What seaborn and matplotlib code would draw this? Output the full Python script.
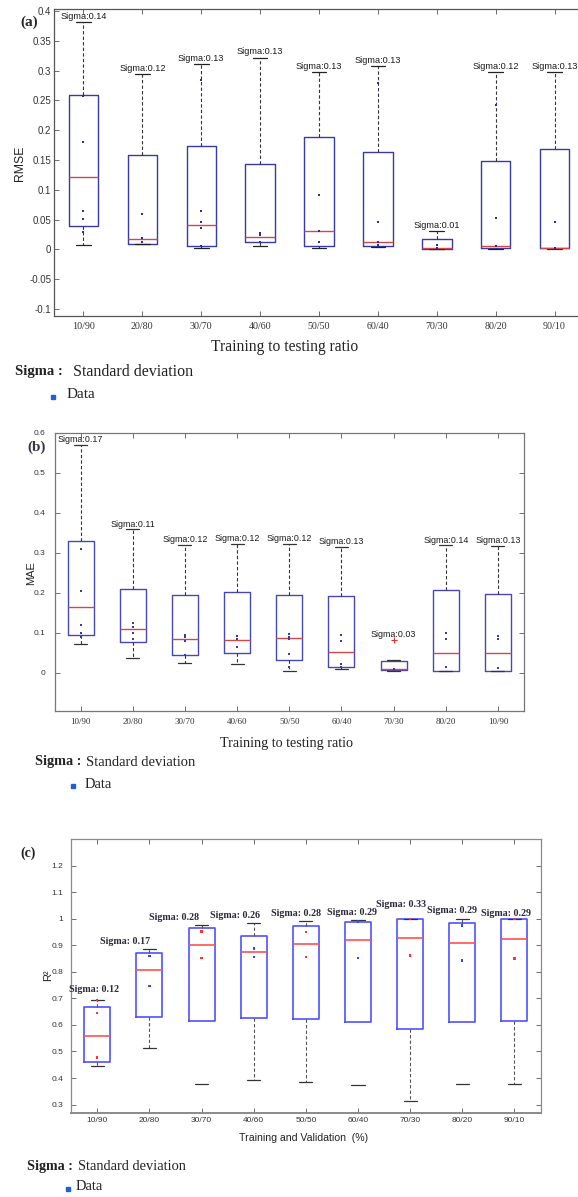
import numpy as np
import pandas as pd
import matplotlib
matplotlib.use("Agg")
import matplotlib.pyplot as plt
from matplotlib.lines import Line2D
from matplotlib.ticker import MultipleLocator
import seaborn as sns

W, H = 578, 1197

# ---- (a) RMSE ----
ratios_a = ["10/90", "20/80", "30/70", "40/60", "50/50", "60/40", "70/30", "80/20", "90/10"]
rmse_lo = [0.0068, 0.0085, 0.0018, 0.0051, 0.0018, 0.0040, 0.0005, 0.0010, 0.0010]
rmse_q1 = [0.0398, 0.0096, 0.0051, 0.0119, 0.0063, 0.0063, 0.0010, 0.0018, 0.0018]
rmse_med = [0.1215, 0.0169, 0.0404, 0.0203, 0.0309, 0.0119, 0.0015, 0.0063, 0.0030]
rmse_q3 = [0.259, 0.158, 0.174, 0.143, 0.188, 0.163, 0.018, 0.149, 0.169]
rmse_hi = [0.382, 0.294, 0.311, 0.322, 0.298, 0.308, 0.030, 0.298, 0.298]
rmse_sigma = [0.14, 0.12, 0.13, 0.13, 0.13, 0.13, 0.01, 0.12, 0.13]
rmse_dots = [[0.257, 0.18, 0.064, 0.051, 0.029], [0.059, 0.019, 0.012],
             [0.284, 0.064, 0.046, 0.035, 0.006], [0.028, 0.024, 0.012],
             [0.091, 0.031, 0.012], [0.28, 0.046, 0.013, 0.008], [0.007, 0.002],
             [0.243, 0.053, 0.006], [0.046, 0.003]]

# ---- (b) MAE ----
ratios_b = ["10/90", "20/80", "30/70", "40/60", "50/50", "60/40", "70/30", "80/20", "10/90"]
mae_lo = [0.0725, 0.036, 0.025, 0.021, 0.005, 0.0083, 0.004, 0.004, 0.004]
mae_q1 = [0.093, 0.076, 0.0433, 0.048, 0.0317, 0.0133, 0.0058, 0.005, 0.005]
mae_med = [0.163, 0.108, 0.0833, 0.0817, 0.0875, 0.051, 0.009, 0.0483, 0.0483]
mae_q3 = [0.33, 0.21, 0.195, 0.201, 0.195, 0.191, 0.029, 0.206, 0.1975]
mae_hi = [0.569, 0.358, 0.32, 0.322, 0.322, 0.315, 0.031, 0.318, 0.317]
mae_sigma = [0.17, 0.11, 0.12, 0.12, 0.12, 0.13, 0.03, 0.14, 0.13]
mae_dots = [[0.31, 0.205, 0.12, 0.098, 0.09], [0.125, 0.115, 0.098, 0.085],
            [0.095, 0.088, 0.078, 0.045], [0.092, 0.085, 0.063],
            [0.097, 0.09, 0.085, 0.047, 0.015], [0.093, 0.08, 0.022, 0.015], [0.008],
            [0.098, 0.083, 0.015], [0.092, 0.083, 0.012]]
mae_flier_group = [6]
mae_flier_val = [0.082]

# ---- (c) R2 ----
ratios_c = ["10/90", "20/80", "30/70", "40/60", "50/50", "60/40", "70/30", "80/20", "90/10"]
r2_lo = [0.4444, 0.512, 0.379, 0.3917, 0.3866, 0.374, 0.3138, 0.378, 0.378]
r2_q1 = [0.4595, 0.629, 0.6163, 0.625, 0.6226, 0.6126, 0.5862, 0.610, 0.6138]
r2_med = [0.560, 0.806, 0.9025, 0.8737, 0.905, 0.920, 0.929, 0.9075, 0.9226]
r2_q3 = [0.668, 0.872, 0.964, 0.934, 0.9716, 0.990, 0.9995, 0.9854, 0.998]
r2_hi = [0.694, 0.885, 0.9766, 0.983, 0.9916, 0.994, 1.0, 1.0, 1.0]
r2_sigma = [0.12, 0.17, 0.28, 0.26, 0.28, 0.29, 0.33, 0.29, 0.29]
r2_dots = [[0.695, 0.645, 0.478], [0.86, 0.748], [0.953, 0.852], [0.888, 0.857],
           [0.95, 0.857], [0.99, 0.852], [1.0, 0.862], [0.975, 0.843], [1.0, 0.85]]

# label nudges for (c) (category units / data units)
c_label_dx = [-0.07, -0.46, -0.52, -0.35, -0.19, -0.11, -0.17, -0.19, -0.17]
c_label_dy = [0.022, 0.012, 0.010, 0.012, 0.013, 0.013, 0.036, 0.014, 0.004]

SERIF = "Liberation Serif"
SANS = "Liberation Sans"

sns.set_theme(style="ticks")
plt.rcParams["font.family"] = [SANS, "DejaVu Sans"]


def box_frame(lo, q1, med, q3, hi):
    vals = np.column_stack([lo, q1, med, q3, hi])
    return pd.DataFrame({"g": np.repeat(np.arange(len(lo)), 5), "v": vals.ravel()})


def dot_frame(dots):
    g = [i for i, d in enumerate(dots) for _ in d]
    v = [x for d in dots for x in d]
    return pd.DataFrame({"g": g, "v": v})


def fig_xy(x, y):
    return x / W, 1 - y / H


def draw_boxes(ax, lo, q1, med, q3, hi, box_c, med_c, whisk_c, cap_c, lw):
    sns.boxplot(data=box_frame(lo, q1, med, q3, hi), x="g", y="v", whis=(0, 100),
                width=0.5, fill=False, showfliers=False, color=box_c, linewidth=lw,
                boxprops=dict(color=box_c, linewidth=lw),
                medianprops=dict(color=med_c, linewidth=lw),
                whiskerprops=dict(color=whisk_c, linestyle="--", dashes=(3, 2), linewidth=0.8),
                capprops=dict(color=cap_c, linewidth=0.9), ax=ax)


def style_axes(ax, spine_c, tick_size, ypad, xpad, xlabels, xfont):
    for s in ax.spines.values():
        s.set_visible(True)
        s.set_color(spine_c)
        s.set_linewidth(0.9)
    ax.tick_params(direction="in", top=True, right=True, length=3.5, width=0.6,
                   colors="#555555", labelcolor="#333333")
    ax.tick_params(axis="y", labelsize=tick_size, pad=ypad)
    ax.set_xticks(range(len(xlabels)))
    ax.set_xticklabels(xlabels, family=xfont[0], fontsize=xfont[1])
    ax.tick_params(axis="x", pad=xpad)
    ax.set_xlabel("")
    ax.set_ylabel("")
    ax.set_xlim(-0.5, len(xlabels) - 0.5)


def legend_rows(sig_x, sd_x, y_sig, mk_x, data_x, y_data, size_sig, size_sd, size_data):
    fig.text(*fig_xy(sig_x, y_sig), "Sigma :", family=SERIF, weight="bold", fontsize=size_sig,
             va="center", ha="left", color="#222222")
    fig.text(*fig_xy(sd_x, y_sig), "Standard deviation", family=SERIF, fontsize=size_sd,
             va="center", ha="left", color="#222222")
    fx, fy = fig_xy(mk_x, y_data + 2)
    fig.add_artist(Line2D([fx], [fy], transform=fig.transFigure, marker="s", markersize=2.6,
                          color="#1f5fd8", linestyle="none"))
    fig.text(*fig_xy(data_x, y_data), "Data", family=SERIF, fontsize=size_data,
             va="center", ha="left", color="#222222")


def tick_fmt(v, p):
    return "0" if abs(v) < 1e-9 else f"{v:g}"


fig = plt.figure(figsize=(W / 100, H / 100), dpi=100)

# ---------- panel (a) ----------
ax_a = fig.add_axes([54 / W, 1 - 316 / H, 530 / W, 307.3 / H])
draw_boxes(ax_a, rmse_lo, rmse_q1, rmse_med, rmse_q3, rmse_hi,
           "#3a3aa6", "#d04848", "#333333", "#222222", 1.0)
sns.scatterplot(data=dot_frame(rmse_dots), x="g", y="v", marker="s", s=3, linewidth=0,
                color="#2b2b9a", ax=ax_a, zorder=4)
style_axes(ax_a, "#555555", 7, 2, 4, ratios_a, (SERIF, 7.2))
ax_a.set_ylim(-0.112, 0.404)
ax_a.yaxis.set_major_locator(MultipleLocator(0.05))
ax_a.yaxis.set_major_formatter(plt.FuncFormatter(tick_fmt))
for i, (s, y) in enumerate(zip(rmse_sigma, rmse_hi)):
    ax_a.text(i, y + 0.002, f"Sigma:{s:.2f}", ha="center", va="bottom", fontsize=6.6,
              family=SANS, color="#1a1a1a")
fig.text(*fig_xy(20, 22), "(a)", family=SERIF, weight="bold", fontsize=11, va="center", ha="left")
fig.text(*fig_xy(20, 163), "RMSE", family=SANS, fontsize=8.8, rotation=90, va="center", ha="center",
         color="#222222")
fig.text(*fig_xy(285, 347), "Training to testing ratio", family=SERIF, fontsize=11.2,
         va="center", ha="center", color="#222222")
legend_rows(15, 73, 372, 53, 67, 395, 10.5, 11.5, 11)

# ---------- panel (b) ----------
ax_b = fig.add_axes([54.5 / W, 1 - 711 / H, 469.5 / W, 278.3 / H])
draw_boxes(ax_b, mae_lo, mae_q1, mae_med, mae_q3, mae_hi,
           "#4848b2", "#d04848", "#333333", "#333333", 1.0)
sns.scatterplot(data=dot_frame(mae_dots), x="g", y="v", marker="s", s=3, linewidth=0,
                color="#3a3aa8", ax=ax_b, zorder=4)
sns.scatterplot(x=mae_flier_group, y=mae_flier_val, marker="+", s=14, linewidth=0.8,
                color="#e03030", ax=ax_b, zorder=4)
style_axes(ax_b, "#777777", 6, 6.5, 5, ratios_b, (SERIF, 6.5))
ax_b.set_ylim(-0.096, 0.6)
ax_b.yaxis.set_major_locator(MultipleLocator(0.1))
ax_b.yaxis.set_major_formatter(plt.FuncFormatter(tick_fmt))
label_base_b = list(mae_hi)
for g, v in zip(mae_flier_group, mae_flier_val):
    label_base_b[g] = max(label_base_b[g], v)
for i, (s, y) in enumerate(zip(mae_sigma, label_base_b)):
    ax_b.text(i, y + 0.002, f"Sigma:{s:.2f}", ha="center", va="bottom", fontsize=6.4,
              family=SANS, color="#1a1a1a")
fig.text(*fig_xy(27, 447), "(b)", family=SERIF, weight="bold", fontsize=11, va="center", ha="left",
         color="#333344")
fig.text(*fig_xy(30.7, 573), "MAE", family=SANS, fontsize=8, rotation=90, va="center", ha="center",
         color="#222222")
fig.text(*fig_xy(286, 743), "Training to testing ratio", family=SERIF, fontsize=10.2,
         va="center", ha="center", color="#222222")
legend_rows(35, 86, 762, 72.7, 85, 784, 10.3, 10.5, 10.4)

# ---------- panel (c) ----------
ax_c = fig.add_axes([71.2 / W, 1 - 1113.3 / H, 469.3 / W, 274 / H])
draw_boxes(ax_c, r2_lo, r2_q1, r2_med, r2_q3, r2_hi,
           "#5050ff", "#ff5050", "#555555", "#333333", 1.2)
dots_c = dot_frame(r2_dots)
dot_pal = ["#ff3030" if i % 2 == 0 else "#3344ff" for i in range(len(r2_dots))]
sns.scatterplot(data=dots_c, x="g", y="v", hue="g", palette=dot_pal, marker="s", s=3,
                linewidth=0, legend=False, ax=ax_c, zorder=4)
style_axes(ax_c, "#8a8a8a", 6, 5.5, 3, ratios_c, (SANS, 6))
ax_c.spines["bottom"].set_linewidth(1.4)
ax_c.set_ylim(0.267, 1.3)
ax_c.yaxis.set_major_locator(MultipleLocator(0.1))
ax_c.yaxis.set_major_formatter(plt.FuncFormatter(lambda v, p: f"{v:g}" if v < 1.25 else ""))
# lower whiskers that are not drawn in the original
dashed = [ln for ln in ax_c.lines if ln.get_linestyle() == "--"]
for i in (2, 5, 7):
    if 2 * i < len(dashed):
        dashed[2 * i].set_visible(False)
for i, (s, y) in enumerate(zip(r2_sigma, r2_hi)):
    ax_c.text(i + c_label_dx[i], y + c_label_dy[i], f"Sigma: {s:.2f}", ha="center", va="bottom",
              fontsize=7.2, family=SERIF, weight="bold", color="#2a2a3a")
fig.text(*fig_xy(20.7, 853), "(c)", family=SERIF, weight="bold", fontsize=10, va="center", ha="left",
         color="#222222")
fig.text(*fig_xy(47.7, 975), "R²", family=SANS, fontsize=8, rotation=90, va="center", ha="center",
         color="#222222")
fig.text(*fig_xy(304, 1138.3), "Training and Validation  (%)", family=SANS, fontsize=7.6,
         va="center", ha="center", color="#222222")
legend_rows(26.7, 77.7, 1166.7, 68.3, 76, 1187, 10.2, 10.4, 10.4)

fig.savefig("out.png", dpi=100)
